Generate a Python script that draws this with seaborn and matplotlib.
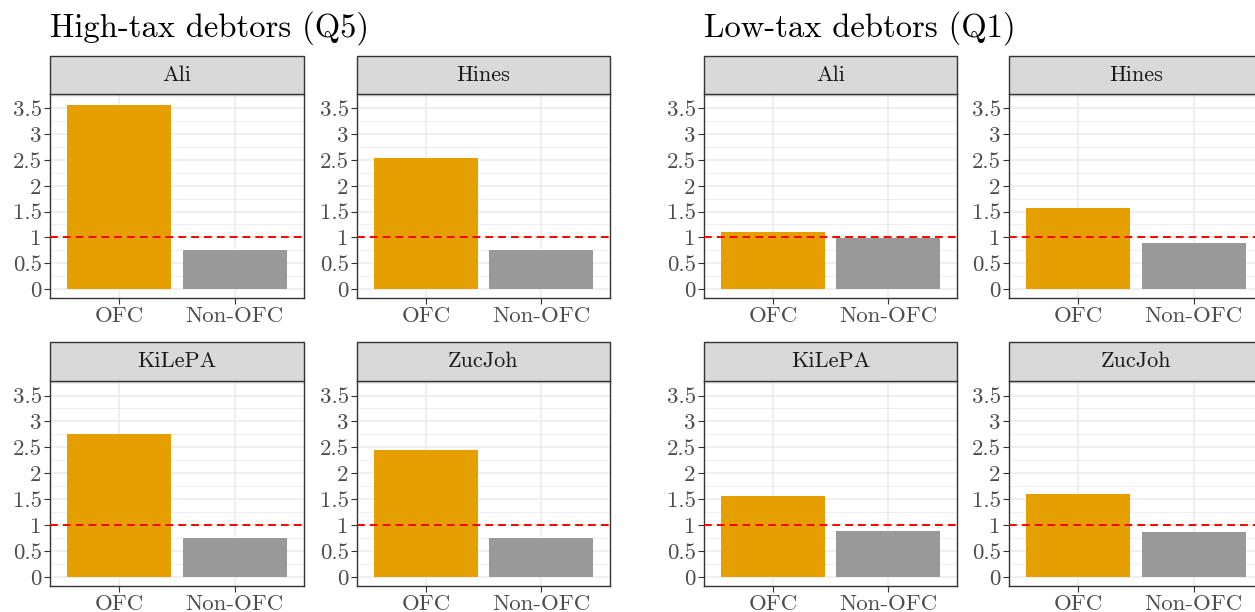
import matplotlib
matplotlib.use("Agg")
import matplotlib.pyplot as plt
from matplotlib.patches import Rectangle
import seaborn as sns
import pandas as pd

# data
STUDIES = ["Ali", "Hines", "KiLePA", "ZucJoh"]
GROUPS = ["OFC", "Non-OFC"]
HIGH_TAX_OFC = [3.56, 2.53, 2.76, 2.45]
HIGH_TAX_NON_OFC = [0.75, 0.75, 0.75, 0.75]
LOW_TAX_OFC = [1.10, 1.56, 1.56, 1.60]
LOW_TAX_NON_OFC = [0.98, 0.885, 0.88, 0.865]
PANEL_TITLES = ["High-tax debtors (Q5)", "Low-tax debtors (Q1)"]
Y_TICKS = [0, 0.5, 1, 1.5, 2, 2.5, 3, 3.5]
Y_TICK_LABELS = ["0", "0.5", "1", "1.5", "2", "2.5", "3", "3.5"]
Y_MINOR = [0.25, 0.75, 1.25, 1.75, 2.25, 2.75, 3.25, 3.75]
REF_LINE = 1.0

COLORS = {"OFC": "#E69F00", "Non-OFC": "#999999"}

rows = []
for panel, ofc, non in [(PANEL_TITLES[0], HIGH_TAX_OFC, HIGH_TAX_NON_OFC),
                        (PANEL_TITLES[1], LOW_TAX_OFC, LOW_TAX_NON_OFC)]:
    for s, a, b in zip(STUDIES, ofc, non):
        rows.append({"panel": panel, "study": s, "type": "OFC", "value": a})
        rows.append({"panel": panel, "study": s, "type": "Non-OFC", "value": b})
df = pd.DataFrame(rows)

sns.set_theme(style="white")
plt.rcParams["font.family"] = ["cmr10", "DejaVu Serif"]
plt.rcParams["axes.unicode_minus"] = False

W, H = 1255, 612
fig = plt.figure(figsize=(W / 100, H / 100), dpi=100)

# panel boxes in pixels: (left, right) per column, (top, bottom) per row
col_x = [(50, 304), (357, 610), (704, 957), (1009, 1263)]
row_y = [(94, 298), (381, 586)]
strip_h = [38, 39]

for p, title in enumerate(PANEL_TITLES):
    fig.text(col_x[2 * p][0] / W, 1 - 28 / H, title, fontsize=23.5,
             ha="left", va="center", color="black")
    for i, study in enumerate(STUDIES):
        r, c = divmod(i, 2)
        x0, x1 = col_x[2 * p + c]
        y0, y1 = row_y[r]
        ax = fig.add_axes([x0 / W, 1 - y1 / H, (x1 - x0) / W, (y1 - y0) / H])
        sub = df[(df.panel == title) & (df.study == study)]
        sns.barplot(data=sub, x="type", y="value", hue="type", order=GROUPS,
                    hue_order=GROUPS, palette=COLORS, width=0.9, ax=ax,
                    legend=False, saturation=1, errorbar=None, zorder=2,
                    linewidth=0)
        ax.axhline(REF_LINE, color="red", ls=(0, (4, 2.6)), lw=1.4, zorder=3)
        ax.set_xlim(-0.6, 1.6)
        ax.set_ylim(-0.178, 3.78)
        ax.set_yticks(Y_TICKS)
        ax.set_yticklabels(Y_TICK_LABELS)
        ax.set_yticks(Y_MINOR, minor=True)
        ax.grid(True, which="major", color="#EBEBEB", lw=1.1, zorder=0)
        ax.grid(True, which="minor", axis="y", color="#EBEBEB", lw=0.6, zorder=0)
        ax.set_axisbelow(True)
        ax.set_xlabel("")
        ax.set_ylabel("")
        ax.tick_params(axis="both", which="major", length=4, width=0.8,
                       color="#333333", labelcolor="#4D4D4D", labelsize=16.5,
                       bottom=True, left=True, pad=2)
        ax.tick_params(axis="y", which="minor", length=0)
        for sp in ax.spines.values():
            sp.set_color("#333333")
            sp.set_linewidth(1.0)
        # facet strip
        sh = strip_h[r] / (y1 - y0)
        ax.add_patch(Rectangle((0, 1), 1, sh, transform=ax.transAxes,
                               facecolor="#D9D9D9", edgecolor="#333333",
                               lw=1.0, clip_on=False, zorder=5))
        ax.text(0.5, 1 + sh / 2, study, transform=ax.transAxes, ha="center",
                va="center", fontsize=16, color="#1A1A1A", zorder=6)

fig.savefig("out.png", dpi=100)
